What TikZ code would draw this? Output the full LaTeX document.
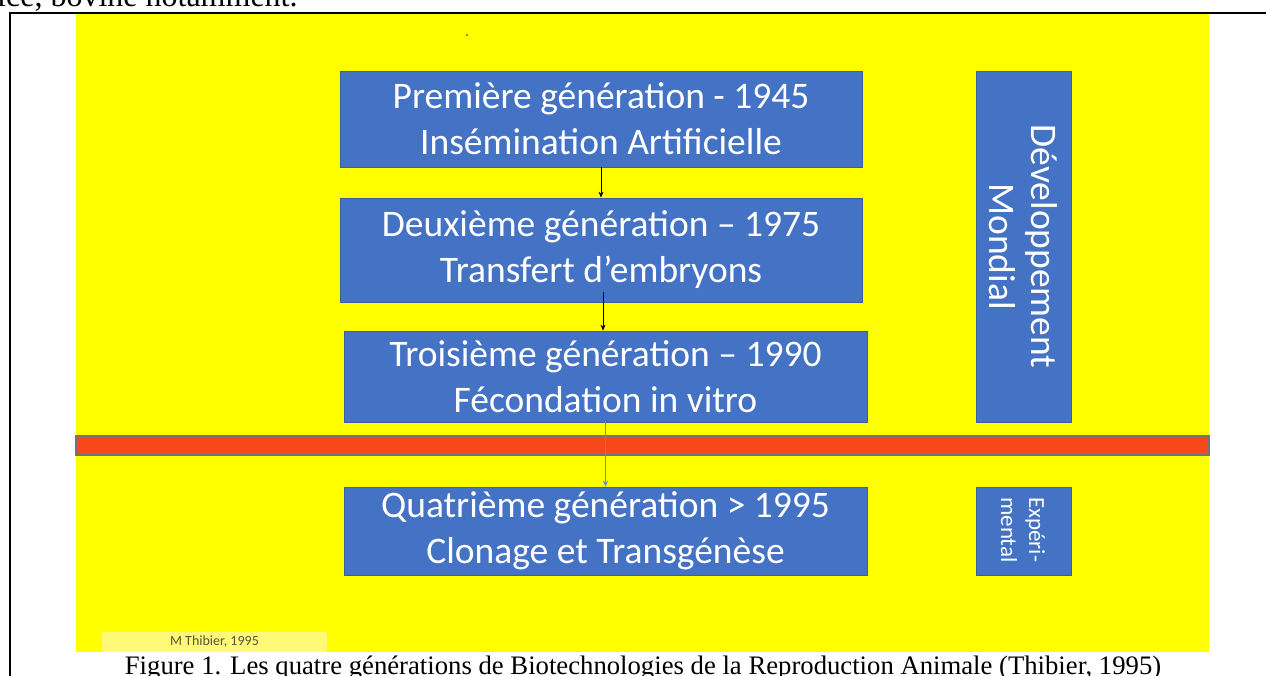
\documentclass[tikz,border=0pt]{standalone}
\usepackage{fontspec}
\setmainfont{Carlito}
\newfontfamily\capfont{Liberation Serif}
\usetikzlibrary{arrows.meta,calc}
\definecolor{ybg}{RGB}{255,255,0}
\definecolor{boxblue}{RGB}{68,114,196}
\definecolor{boxedge}{RGB}{60,95,150}
\definecolor{barred}{RGB}{244,73,26}
\definecolor{bargrey}{RGB}{115,115,115}
\definecolor{paley}{RGB}{255,249,120}
\definecolor{arrowgrey}{RGB}{105,140,175}
\definecolor{credit}{RGB}{85,85,50}
\definecolor{speck}{RGB}{150,150,20}
\tikzset{
  genbox/.style={draw=boxedge, line width=0.7pt, fill=boxblue, text=white,
    font=\fontsize{37.5}{46}\selectfont, align=center, inner sep=0pt},
  sidebox/.style={draw=boxedge, line width=0.7pt, fill=boxblue, inner sep=0pt},
  flowarrow/.style={draw=black, line width=0.8pt, -{Stealth[length=6pt,width=5pt]}},
  faintarrow/.style={draw=arrowgrey, line width=0.8pt, -{Stealth[length=6pt,width=5pt]}}
}
\begin{document}
\begin{tikzpicture}[x=1pt,y=-1pt]
\useasboundingbox (0,0) rectangle (1266,675);
\begin{scope}
\clip (0,0) rectangle (1266,675);
\fill[white] (0,0) rectangle (1266,675);
% cropped text of the page above
\node[anchor=base west, inner sep=0pt, font=\capfont\fontsize{32}{32}\selectfont] (toptext) at (-3,6) {ice, bovine notamment.};
% page frame
\draw[line width=2pt] (10,680) -- (10,12.5) -- (1270,12.5);
% slide background
\fill[ybg] (76,13.5) rectangle (1209,652);
\fill[speck] (466,34) rectangle (468,36);
% separating bar
\draw[draw=bargrey, line width=2pt, fill=barred] (76,436) rectangle (1209,455);
% generation boxes
\node[genbox, minimum width=522pt, minimum height=96pt] (b1) at (601,119)
  {Première génération - 1945\\Insémination Artificielle};
\node[genbox, minimum width=522pt, minimum height=104pt] (b2) at (601,250)
  {Deuxième génération – 1975\\Transfert d’embryons};
\node[genbox, minimum width=523pt, minimum height=91pt] (b3) at (605.5,376.5)
  {Troisième génération – 1990\\Fécondation in vitro};
\node[genbox, minimum width=523pt, minimum height=88pt] (b4) at (605.5,531)
  {Quatrième génération > 1995\\Clonage et Transgénèse};
% side boxes
\node[sidebox, rotate=-90, minimum width=351pt, minimum height=95pt, text=white,
  align=center, font=\fontsize{37.5}{42}\selectfont] (dev) at (1023.5,246.5)
  {Développement\\Mondial};
\node[sidebox, minimum width=95pt, minimum height=88pt] (exp) at (1023.5,531) {};
\node[rotate=-90, anchor=west, inner sep=0pt, text=white, align=left,
  font=\fontsize{23}{28}\selectfont] (explbl) at (1023,497) {Expéri-\\mental};
% arrows
\draw[flowarrow] (b1.south) -- (b2.north);
\coordinate (a2s) at (603,292);
\draw[flowarrow] (a2s) -- (a2s |- b3.north);
\draw[faintarrow] (b3.south) -- (b4.north);
% credit
\node[fill=paley, rounded corners=2pt, minimum width=225pt, minimum height=20pt, inner sep=0pt,
  text=credit, font=\fontsize{14}{16}\selectfont] (cred) at (214.5,642) {M Thibier, 1995};
% caption
\node[anchor=base, inner sep=0pt, font=\capfont\fontsize{26.7}{27}\selectfont] (cap) at (643,674)
  {Figure 1. Les quatre générations de Biotechnologies de la Reproduction Animale (Thibier, 1995)};
\end{scope}
\end{tikzpicture}
\end{document}
